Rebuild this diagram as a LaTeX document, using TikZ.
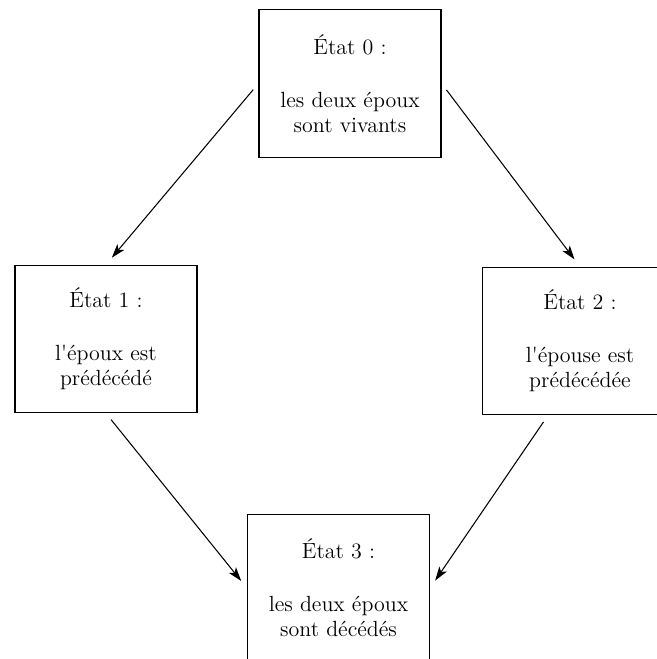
\documentclass[tikz,border=0pt]{standalone}
\usepackage{tikz}
\usetikzlibrary{arrows.meta,positioning}
\tikzset{
    etat/.style={rectangle, draw, line width=0.7pt, minimum width=3.64cm, minimum height=2.95cm,
                 align=center, font=\fontsize{12.5}{14.2}\selectfont},
    edge/.style={draw, line width=0.6pt, -{Stealth[length=2.8mm, width=1.8mm, inset=0.7mm]},
                 shorten <=0.16cm, shorten >=0.18cm}
}
\begin{document}
\begin{tikzpicture}
    \useasboundingbox (0,0) rectangle (13.14,-13.18);
    % Nodes
    \node[etat] (s0) at (7.0,-1.67) {\'Etat 0 :\\[16pt] les deux \'epoux\\ sont vivants};
    \node[etat] (s1) at (2.12,-6.78) {\'Etat 1 :\\[16pt] l\textquotesingle\'epoux est\\ pr\'ed\'ec\'ed\'e};
    \node[etat, minimum width=3.9cm] (s2) at (11.6,-6.82) {\'Etat 2 :\\[16pt] l\textquotesingle\'epouse est\\ pr\'ed\'ec\'ed\'ee};
    \node[etat] (s3) at (6.77,-11.76) {\'Etat 3 :\\[16pt] les deux \'epoux\\ sont d\'ec\'ed\'es};

    % edges
    \draw[edge] (s0.west) -- (s1.north);
    \draw[edge] (s0.east) -- (s2.north);
    \draw[edge] (s1.south) -- (s3.west);
    \draw[edge] ([xshift=-0.64cm]s2.south) -- (s3.east);
\end{tikzpicture}
\end{document}
